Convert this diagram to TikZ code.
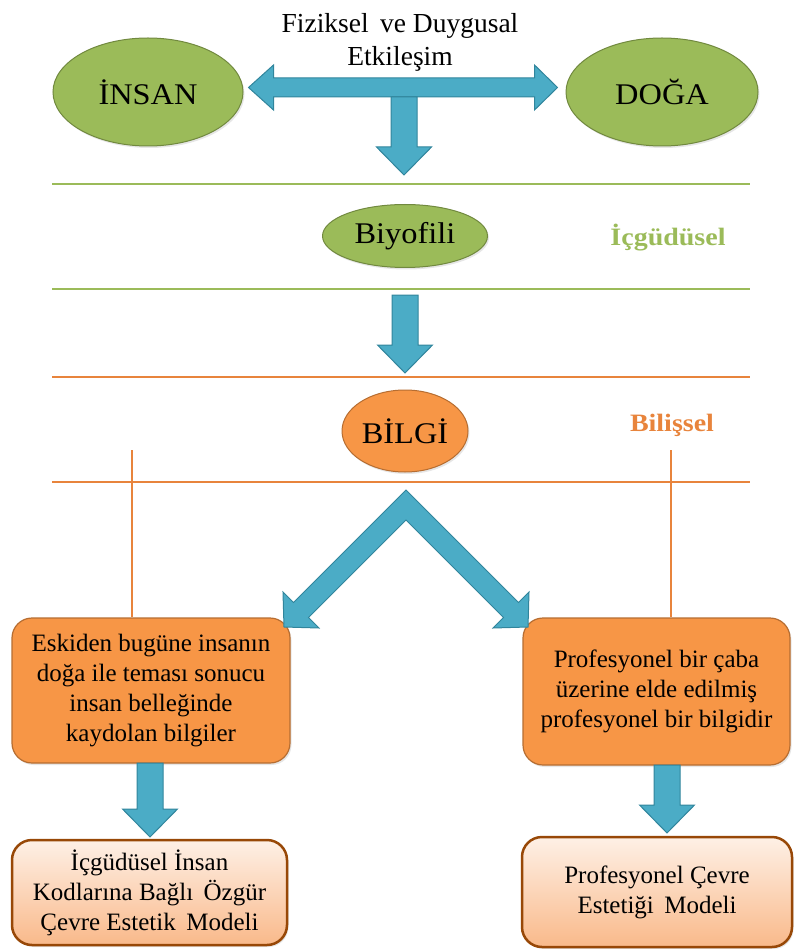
\documentclass[tikz,border=0pt]{standalone}
\usepackage{fontspec}
\setmainfont{Liberation Serif}
\newfontfamily\widefont{Liberation Serif}[FakeStretch=1.08]
\newfontfamily\sidefont{Liberation Serif}[FakeStretch=1.12]
\usetikzlibrary{calc,shapes.geometric,shadows}

\definecolor{leafgreen}{HTML}{9BBB59}
\definecolor{leafdark}{HTML}{71893F}
\definecolor{skyblue}{HTML}{4BACC6}
\definecolor{skydark}{HTML}{31859C}
\definecolor{sunorange}{HTML}{F79646}
\definecolor{sundark}{HTML}{B66D31}
\definecolor{lineorange}{HTML}{E8843C}
\definecolor{peachtop}{HTML}{FEF0E6}
\definecolor{peachbot}{HTML}{F9B98A}
\definecolor{brownedge}{HTML}{984807}

\tikzset{
  softshadow/.style={drop shadow={opacity=0.2, shadow xshift=1.5pt, shadow yshift=-2pt}},
  oval/.style={ellipse, draw=leafdark, fill=leafgreen, line width=1pt, inner sep=0pt, softshadow,
    font=\widefont\fontsize{30}{34}\selectfont},
  infobox/.style={rectangle, rounded corners=20pt, draw=sundark, fill=sunorange, line width=1.2pt,
    softshadow, align=center, font=\fontsize{25}{30}\selectfont},
  modelbox/.style={rectangle, rounded corners=20pt, draw=brownedge, line width=2.5pt, softshadow,
    top color=peachtop, bottom color=peachbot, align=center, font=\fontsize{25}{30}\selectfont},
  blkarrow/.style={draw=skydark, fill=skyblue, line width=1pt, line join=miter},
  greenrule/.style={draw=leafgreen, line width=2pt},
  orangerule/.style={draw=lineorange, line width=2pt},
  thinorange/.style={draw=lineorange, line width=1.2pt}
}

% block arrow pointing down: #1 start of shaft, #2 tip
\newcommand{\blkdown}[2]{%
  \draw[blkarrow] ($(#1)+(-13,0)$) -- ($(#2)+(-13,-28)$) -- ($(#2)+(-27.5,-28)$) -- (#2)
    -- ($(#2)+(27.5,-28)$) -- ($(#2)+(13,-28)$) -- ($(#1)+(13,0)$) -- cycle;}

\begin{document}
\begin{tikzpicture}[x=1pt, y=-1pt]
  \useasboundingbox (0,0) rectangle (793,949);

  % top row
  \node[oval, minimum width=190pt, minimum height=108pt] (insan) at (148,92) {İNSAN};
  \node[oval, minimum width=192pt, minimum height=108pt] (doga) at (662,92) {DOĞA};
  \node[align=center, font=\fontsize{27.5}{33}\selectfont] (etki) at (400,42) {Fiziksel\, ve Duygusal\\Etkileşim};

  \coordinate (dl) at ($(insan.east)+(5,-4.5)$);
  \coordinate (dr) at ($(doga.west)+(-8,-4.5)$);
  \draw[blkarrow] (dl) -- ($(dl)+(25,-22.5)$) -- ($(dl)+(25,-9.5)$) -- ($(dr)+(-23,-9.5)$)
    -- ($(dr)+(-23,-22.5)$) -- (dr) -- ($(dr)+(-23,22.5)$) -- ($(dr)+(-23,9.5)$)
    -- ($(dl)+(25,9.5)$) -- ($(dl)+(25,22.5)$) -- cycle;

  \coordinate (s1) at (404,97);
  \coordinate (t1) at (404,175);
  \blkdown{s1}{t1}

  % instinctive layer
  \draw[greenrule] (52,184) -- (750,184);
  \node[oval, minimum width=165pt, minimum height=63pt] (biyo) at (405,236) {Biyofili};
  \node[text=leafgreen, font=\sidefont\bfseries\fontsize{25}{30}\selectfont] (icgu) at (668,238) {İçgüdüsel};
  \draw[greenrule] (52,289) -- (750,289);

  \coordinate (s2) at (405,295);
  \coordinate (t2) at (405,373);
  \blkdown{s2}{t2}

  % cognitive layer
  \draw[orangerule] (52,377) -- (750,377);
  \node[oval, draw=sundark, fill=sunorange, minimum width=126pt, minimum height=82pt] (bilgi) at (405,431) {BİLGİ};
  \node[text=lineorange, font=\sidefont\bfseries\fontsize{25}{30}\selectfont] (bilis) at (672,425) {Bilişsel};
  \draw[orangerule] (52,482) -- (750,482);

  % two ways of knowing
  \node[infobox, minimum width=278pt, minimum height=145pt] (eski) at (151,690.5)
    {Eskiden bugüne insanın\\doğa ile teması sonucu\\insan belleğinde\\kaydolan bilgiler};
  \node[infobox, minimum width=267pt, minimum height=147pt] (prof) at (656.5,691.5)
    {Profesyonel bir çaba\\üzerine elde edilmiş\\profesyonel bir bilgidir};

  \coordinate (vl) at (132,450);
  \coordinate (vr) at (671,450);
  \draw[thinorange] (vl) -- (vl |- eski.north);
  \draw[thinorange] (vr) -- (vr |- prof.north);

  \coordinate (c) at (406,490);
  \draw[blkarrow] (c) -- ++(-112.5,112.5) -- ++(-10.5,-10.5) -- ++(1,35) -- ++(35,1)
    -- ++(-10.5,-10.5) -- (406,520) -- ++(97.5,97.5) -- ++(-10.5,10.5) -- ++(35,-1)
    -- ++(1,-35) -- ++(-10.5,10.5) -- cycle;

  % models
  \node[modelbox, minimum width=275pt, minimum height=105pt] (ozgur) at (149.5,892.5)
    {İçgüdüsel İnsan\\Kodlarına Bağlı\, Özgür\\Çevre Estetik\, Modeli};
  \node[modelbox, minimum width=270pt, minimum height=110pt] (estet) at (657,892)
    {Profesyonel Çevre\\Estetiği\, Modeli};

  \coordinate (s3) at (150,763);
  \coordinate (t3) at (150,837);
  \blkdown{s3}{t3}
  \coordinate (s4) at (667,765);
  \coordinate (t4) at (667,833);
  \blkdown{s4}{t4}
\end{tikzpicture}
\end{document}
